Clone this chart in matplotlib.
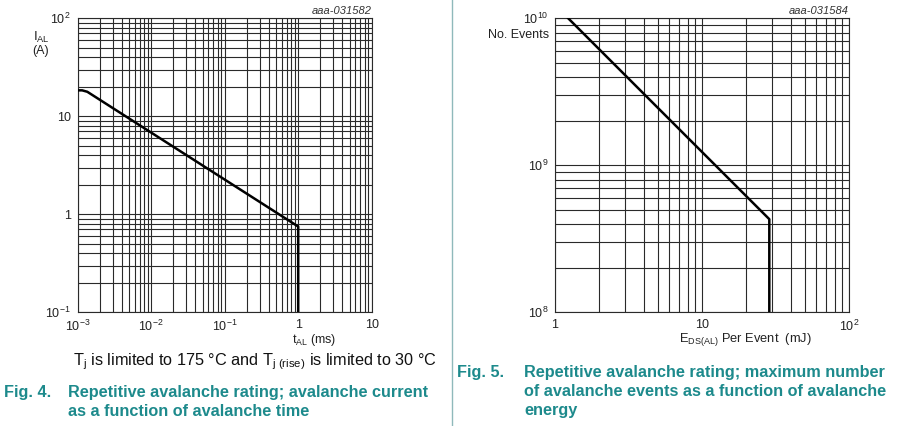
import matplotlib
matplotlib.use("Agg")
import matplotlib.pyplot as plt
from matplotlib.ticker import LogLocator, NullFormatter, FixedLocator
import numpy as np

plt.rcParams['font.family'] = ['Liberation Sans', 'DejaVu Sans']
plt.rcParams['mathtext.fontset'] = 'custom'
plt.rcParams['mathtext.rm'] = 'Liberation Sans'
plt.rcParams['mathtext.it'] = 'Liberation Sans:italic'
plt.rcParams['mathtext.default'] = 'regular'

# ---- Data: Fig. 4 avalanche current vs time ----
t_al = [1e-3, 1.15e-3, 1.35e-3, 1.0, 1.0]          # ms
i_al = [18.4, 18.4, 17.8, 0.75, 0.1]                # A
left_xticks = [1e-3, 1e-2, 1e-1, 1, 10]
left_xlabels = [r'$10^{-3}$', r'$10^{-2}$', r'$10^{-1}$', '1', '10']
left_yticks = [1e-1, 1, 10, 100]
left_ylabels = [r'$10^{-1}$', '1', '10', r'$10^{2}$']

# ---- Data: Fig. 5 number of events vs energy ----
e_ds = [1.23, 28.7, 28.7]                          # mJ
n_events = [1e10, 4.3e8, 1e8]
right_xticks = [1, 10, 100]
right_xlabels = ['1', '10', r'$10^{2}$']
right_yticks = [1e8, 1e9, 1e10]
right_ylabels = [r'$10^{8}$', r'$10^{9}$', r'$10^{10}$']

W, H = 900, 426
fig = plt.figure(figsize=(9, 4.26), dpi=100)

def px_axes(x0, y0, x1, y1):
    return fig.add_axes([x0 / W, 1 - y1 / H, (x1 - x0) / W, (y1 - y0) / H])

grid_kw = dict(color='#2a2a2a', linewidth=0.8)

def style(ax, xlim, ylim, xt, xl, yt, yl):
    ax.set_xscale('log')
    ax.set_yscale('log')
    ax.set_xlim(*xlim)
    ax.set_ylim(*ylim)
    ax.xaxis.set_major_locator(FixedLocator(xt))
    ax.yaxis.set_major_locator(FixedLocator(yt))
    ax.set_xticklabels(xl)
    ax.set_yticklabels(yl)
    ax.xaxis.set_minor_locator(LogLocator(base=10, subs=np.arange(2, 10)))
    ax.yaxis.set_minor_locator(LogLocator(base=10, subs=np.arange(2, 10)))
    ax.xaxis.set_minor_formatter(NullFormatter())
    ax.yaxis.set_minor_formatter(NullFormatter())
    ax.grid(True, which='both', **grid_kw)
    ax.tick_params(which='both', length=0, labelsize=9, colors='#222222')
    ax.tick_params(axis='x', pad=5)
    ax.tick_params(axis='y', pad=5)
    for s in ax.spines.values():
        s.set_color('#2a2a2a')
        s.set_linewidth(0.8)

axL = px_axes(77.7, 18.3, 371.7, 312.3)
style(axL, (1e-3, 10), (0.1, 100), left_xticks, left_xlabels, left_yticks, left_ylabels)
axL.plot(t_al, i_al, color='black', linewidth=1.8, solid_joinstyle='round', zorder=5, clip_on=True)

axR = px_axes(555, 18.3, 849, 312.3)
style(axR, (1, 100), (1e8, 1e10), right_xticks, right_xlabels, right_yticks, right_ylabels)
axR.plot(e_ds, n_events, color='black', linewidth=1.8, zorder=5)

def ftext(x, y, s, **kw):
    return fig.text(x / W, 1 - y / H, s, **kw)

# Left annotations
ftext(371.7, 11, 'aaa-031582', ha='right', va='center', fontsize=8, style='italic', color='#333333')
ftext(33, 37, r'$I_{AL}$', ha='left', va='center', fontsize=9.5, color='#222222')
ftext(32, 51, '(A)', ha='left', va='center', fontsize=9, color='#222222')
ftext(314, 340, r'$t_{AL}$ (ms)', ha='center', va='center', fontsize=9, color='#222222')

# Right annotations
ftext(849, 11, 'aaa-031584', ha='right', va='center', fontsize=8, style='italic', color='#333333')
ftext(549, 35, 'No. Events', ha='right', va='center', fontsize=9, color='#222222')
ftext(745, 340, r'$E_{DS(AL)}$ Per Event  (mJ)', ha='center', va='center', fontsize=9.3, color='#222222')

# Condition text
ftext(73, 362, r'$T_j$ is limited to 175 °C and $T_{j\ (rise)}$ is limited to 30 °C',
      ha='left', va='center', fontsize=11.7, color='#111111')

# Captions
teal = '#1d8a8c'
cap_font = ['Liberation Sans Narrow', 'Liberation Sans', 'DejaVu Sans']
cap_kw = dict(ha='left', va='center', fontsize=11.7, fontweight='bold', color=teal, family=cap_font)
ftext(4, 392, 'Fig. 4.', **cap_kw)
ftext(68, 392, 'Repetitive avalanche rating; avalanche current', **cap_kw)
ftext(68, 411, 'as a function of avalanche time', **cap_kw)
ftext(457, 372, 'Fig. 5.', **cap_kw)
ftext(524, 372, 'Repetitive avalanche rating; maximum number', **cap_kw)
ftext(524, 392, 'of avalanche events as a function of avalanche', **cap_kw)
ftext(524, 411, 'energy', **cap_kw)

# Separator line
fig.add_artist(plt.Line2D([452 / W, 452 / W], [0, 1], color='#8fb9bb', linewidth=1.0))

fig.savefig('out.png', dpi=100)
